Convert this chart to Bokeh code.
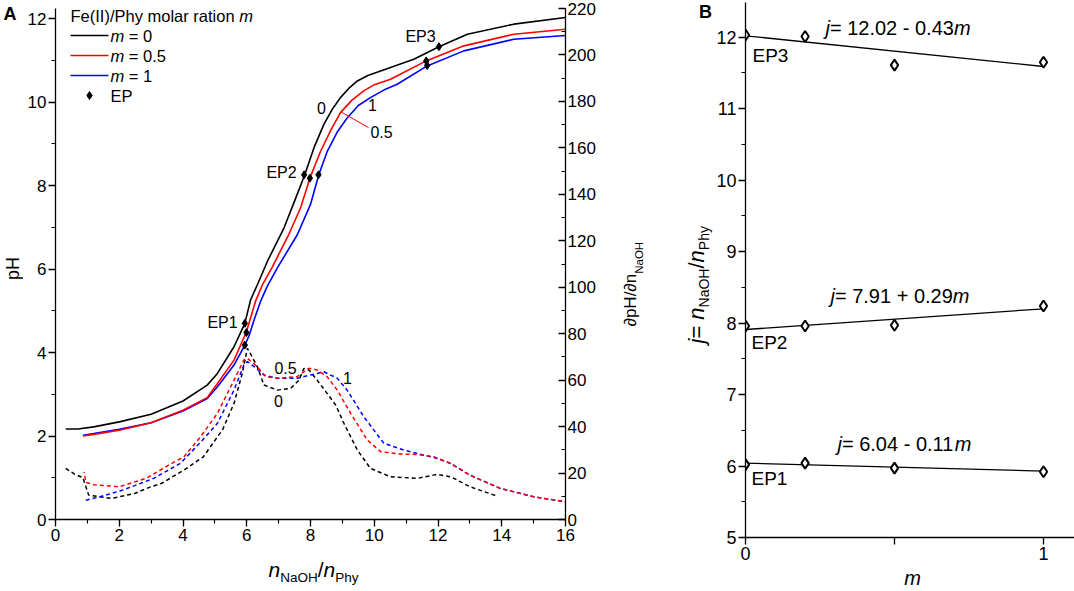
from bokeh.plotting import figure
from bokeh.models import Range1d, LinearAxis, Label, FixedTicker
from bokeh.layouts import row, column
from bokeh.embed import file_html
from bokeh.resources import INLINE

FONT = "Liberation Sans"
NB = "\u00a0"

# ---------------- data: panel A (pH curves, left axis) ----------------
x_ph0 = [0.32, 0.7, 1.2, 2.0, 3.0, 4.0, 4.76, 5.08, 5.6, 5.94, 6.12, 6.33, 6.65, 7.17, 7.5, 7.82,
         8.11, 8.42, 8.7, 8.94, 9.2, 9.47, 9.8, 10.2, 11.24, 12.03, 12.92, 14.38, 16.0]
ph0 = [2.17, 2.17, 2.22, 2.34, 2.52, 2.84, 3.22, 3.5, 4.14, 4.70, 5.26, 5.62, 6.19, 6.99, 7.63, 8.26,
       8.91, 9.47, 9.85, 10.11, 10.33, 10.51, 10.64, 10.75, 11.03, 11.33, 11.63, 11.87, 12.03]

x_ph05 = [0.86, 1.2, 2.0, 3.0, 4.0, 4.76, 5.08, 5.6, 5.99, 6.28, 6.49, 6.8, 7.3, 7.69, 7.98,
          8.32, 8.65, 8.94, 9.3, 9.67, 10.0, 10.51, 11.63, 12.81, 14.38, 16.0]
ph05 = [2.0, 2.04, 2.14, 2.32, 2.62, 2.92, 3.26, 3.82, 4.50, 5.24, 5.62, 6.05, 6.8, 7.47, 8.18,
        8.83, 9.35, 9.75, 10.05, 10.27, 10.42, 10.55, 10.99, 11.35, 11.63, 11.75]

x_ph1 = [0.86, 1.2, 2.0, 3.0, 4.0, 4.76, 5.08, 5.6, 5.94, 6.07, 6.23, 6.44, 6.65, 6.96, 7.59, 8.0,
         8.26, 8.53, 8.85, 9.15, 9.5, 9.88, 10.3, 10.72, 11.66, 12.81, 14.38, 16.0]
ph1 = [2.02, 2.06, 2.16, 2.32, 2.6, 2.9, 3.18, 3.7, 4.18, 4.4, 4.78, 5.24, 5.6, 6.03, 6.83, 7.55,
       8.26, 8.83, 9.3, 9.62, 9.92, 10.11, 10.29, 10.43, 10.87, 11.23, 11.51, 11.6]

# equivalence points on the pH curves (m = 0, 0.5, 1)
ep_x = [5.94, 5.99, 5.94, 7.8, 7.98, 8.25, 12.03, 11.63, 11.66]
ep_ph = [4.70, 4.48, 4.18, 8.26, 8.18, 8.26, 11.33, 10.99, 10.88]

# ---------------- data: panel A (derivative, right axis) ----------------
x_d0 = [0.32, 0.6, 0.86, 1.04, 1.76, 2.48, 2.99, 3.32, 4.03, 4.64, 5.08, 5.24, 5.6, 5.86, 6.02, 6.15,
        6.33, 6.54, 6.96, 7.38, 7.64, 7.79, 7.95, 8.21, 8.52, 8.79, 9.05, 9.47, 9.88, 10.51, 11.35,
        11.97, 12.4, 13.0, 13.85]
d0 = [22.0, 19.5, 18.0, 10.5, 9.1, 11.2, 14.1, 15.5, 21.3, 27.0, 35.6, 38.6, 50.0, 62.9, 73.7, 70.5,
      65.8, 57.9, 55.7, 56.5, 60.0, 65.0, 64.4, 60.0, 54.3, 49.3, 41.4, 29.9, 22.0, 18.4, 17.7,
      19.4, 18.4, 14.1, 10.1]

x_d05 = [0.9, 0.95, 1.2, 2.0, 2.84, 3.56, 4.03, 4.55, 5.08, 5.6, 5.91, 6.02, 6.33, 6.59, 6.96, 7.58,
         7.79, 7.95, 8.21, 8.52, 8.84, 9.26, 9.78, 10.2, 10.82, 11.35, 11.87, 12.4, 13.0, 13.95,
         15.0, 16.0]
d05 = [20.5, 16.0, 15.0, 14.1, 17.7, 23.5, 27.0, 35.6, 45.7, 60.0, 68.7, 69.4, 65.8, 61.5, 60.8, 61.5,
       63.6, 65.1, 64.4, 61.5, 55.7, 45.7, 34.2, 29.2, 28.2, 28.0, 27.0, 24.1, 19.1, 13.4,
       9.8, 7.6]

x_d1 = [0.95, 1.4, 2.12, 3.08, 3.92, 4.52, 5.08, 5.6, 5.91, 6.02, 6.23, 6.54, 6.96, 7.58, 8.0, 8.42,
        8.84, 9.15, 9.67, 10.3, 10.93, 11.56, 11.98, 12.4, 13.0, 13.95, 15.0, 16.0]
d1 = [8.3, 9.8, 12.7, 17.7, 24.2, 32.8, 41.4, 55.7, 66.5, 68.0, 65.8, 62.2, 60.8, 60.8, 62.2, 63.6,
      60.8, 55.7, 44.3, 32.8, 29.9, 27.7, 26.3, 24.1, 19.1, 13.4, 9.8, 7.6]

# ---------------- data: panel B ----------------
m_vals = [0, 0.2, 0.5, 1.0]
j_ep1 = [6.02, 6.04, 5.97, 5.92]
j_ep2 = [7.96, 7.96, 7.97, 8.24]
j_ep3 = [12.03, 12.01, 11.61, 11.65]
fit_intercept = [6.04, 7.91, 12.02]
fit_slope = [-0.11, 0.29, -0.43]
fit_m = [0, 1]

# tick labels
a_xticks = [0, 2, 4, 6, 8, 10, 12, 14, 16]
a_phticks = [0, 2, 4, 6, 8, 10, 12]
a_dticks = [0, 20, 40, 60, 80, 100, 120, 140, 160, 180, 200, 220]
b_xticks = [0, 0.5, 1]
b_xlabels = {0: "0", 0.5: "", 1: "1"}
b_yticks = [5, 6, 7, 8, 9, 10, 11, 12]

# ---------------- geometry (page pixels, content starts at 0,0) ----------------
FIG_H = 589
SL_W = 23
A_LEFT, A_W, A_RIGHT, A_TOP, A_H, A_BOT = 32, 510, 40, 8, 511, 31
A_TOTW = A_LEFT + A_W + A_RIGHT
A_TOTH = A_TOP + A_H + A_BOT
SM_W = 108
B_LEFT, B_W, B_RIGHT, B_TOP, B_H, B_BOT = 30, 329, 0, 2, 535, 29
B_TOTW = B_LEFT + B_W + B_RIGHT
B_TOTH = B_TOP + B_H + B_BOT
PH_PX = 41.73
X_PX = A_W / 16.0
BX_PX = 298.0
BY_PX = 71.47

SL_X = 0
A_X = SL_X + SL_W
SM_X = A_X + A_TOTW
B_X = SM_X + SM_W
A_FX = A_X + A_LEFT
A_FB = A_TOP + A_H
B_FX = B_X + B_LEFT
B_FB = B_TOP + B_H


def ax(px):
    return (px - A_FX) / X_PX


def ay(py):
    return (A_FB - py) / PH_PX


def bx(px):
    return (px - B_FX) / BX_PX


def by(py):
    return 5 + (B_FB - py) / BY_PX


W = {'0': .556, '1': .556, '2': .556, '3': .556, '4': .556, '5': .556, '6': .556, '7': .556,
     '8': .556, '9': .556, '.': .278, ' ': .278, NB: .278, '-': .333, '=': .584, '+': .584,
     'j': .222, 'm': .833, 'n': .556, 'E': .667, 'P': .667, 'h': .556, 'y': .5, 'N': .722,
     'a': .556, 'O': .778, 'H': .722, '/': .278, '\u2202': .494, 'p': .556, 'F': .611, 'e': .556,
     '(': .333, ')': .333, 'I': .278, 'o': .556, 'l': .222, 'r': .333, 't': .278, 'i': .222}


def tw(text, size):
    return sum(W.get(c, .556) for c in text) * size


class Place:
    def __init__(self, p, fx, fy):
        self.p, self.fx, self.fy = p, fx, fy

    def label(self, px, py, text, size, style="normal", align="left", angle=0.0, color="black"):
        self.p.add_layout(Label(x=self.fx(px), y=self.fy(py), text=text, text_font=FONT,
                                text_font_size=f"{size}px", text_font_style=style,
                                text_align=align, text_baseline="middle", angle=angle,
                                text_color=color))

    def hpieces(self, px0, py, pieces):
        """pieces: (text, size, style, dy) ; py / py+dy are text centres"""
        cx = px0
        for text, size, style, dy in pieces:
            self.label(cx, py + dy, text, size, style)
            cx += tw(text, size)

    def vpieces(self, px, py0, pieces):
        """rotated, reading bottom to top; px / px+dx are text centres"""
        cy = py0
        for text, size, style, dx in pieces:
            self.label(px + dx, cy, text, size, style, angle=1.5707963)
            cy -= tw(text, size)


def strip(w, h, frame_left, frame_top, bl=0, br=0):
    """text-only figure; its data coordinates are page pixels (y negated)"""
    f = figure(frame_width=w, frame_height=h, min_border=0, min_border_left=bl,
               min_border_right=br, x_range=Range1d(frame_left, frame_left + w),
               y_range=Range1d(-(frame_top + h), -frame_top), x_axis_location=None,
               y_axis_location=None, output_backend="svg", toolbar_location=None)
    f.outline_line_color = None
    f.grid.visible = False
    f.background_fill_color = "white"
    f.border_fill_color = "white"
    return Place(f, lambda px: px, lambda py: -py)


def style_axis(a, size):
    a.axis_line_width = 1.3
    a.axis_line_color = "black"
    a.major_tick_line_width = 1.3
    a.minor_tick_line_width = 1.1
    a.major_tick_out = 7
    a.major_tick_in = 0
    a.minor_tick_out = 4
    a.minor_tick_in = 0
    a.major_label_text_font = FONT
    a.major_label_text_font_size = f"{size}px"
    a.major_label_text_color = "black"
    a.major_label_standoff = 2


# ---------------- panel A ----------------
pA = figure(frame_width=A_W, frame_height=A_H, min_border_left=A_LEFT, min_border_right=A_RIGHT,
            min_border_top=A_TOP, min_border_bottom=A_BOT, x_range=Range1d(0, 16),
            y_range=Range1d(0, A_H / PH_PX), output_backend="svg", toolbar_location=None)
pA.outline_line_color = None
pA.grid.visible = False
pA.background_fill_color = "white"
pA.border_fill_color = "white"
pA.extra_y_ranges = {"d": Range1d(0, 220)}
style_axis(pA.xaxis[0], 17)
style_axis(pA.yaxis[0], 17)
pA.xaxis[0].ticker = FixedTicker(ticks=a_xticks, minor_ticks=list(range(0, 17)))
pA.yaxis[0].ticker = FixedTicker(ticks=a_phticks, minor_ticks=list(range(0, 13)))
rax = LinearAxis(y_range_name="d")
style_axis(rax, 17)
rax.major_tick_out = 0
rax.major_tick_in = 7
rax.minor_tick_out = 0
rax.minor_tick_in = 4
rax.ticker = FixedTicker(ticks=a_dticks, minor_ticks=list(range(0, 221, 10)))
pA.add_layout(rax, "right")

DASH = "4 3"
pA.line(x_d0, d0, y_range_name="d", line_color="black", line_width=1.5, line_dash=DASH)
pA.line(x_d1, d1, y_range_name="d", line_color="#0000ff", line_width=1.5, line_dash=DASH)
pA.line(x_d05, d05, y_range_name="d", line_color="#ff0000", line_width=1.5, line_dash=DASH,
        line_dash_offset=3)
pA.line(x_ph1, ph1, line_color="#0000ff", line_width=1.6)
pA.line(x_ph05, ph05, line_color="#ff0000", line_width=1.6)
pA.line(x_ph0, ph0, line_color="black", line_width=1.6)
pA.scatter(ep_x, ep_ph, marker="diamond", size=8, color="black")

# leader line for the "0.5" label
pA.segment(x0=[ax(341)], y0=[ay(111.7)], x1=[ax(368)], y1=[ay(127)], line_color="#ff0000",
           line_width=1)

PA = Place(pA, ax, ay)
# legend (manual)
PA.hpieces(70, 15, [("Fe(II)/Phy molar ration" + NB, 16.5, "normal", 0),
                    ("m", 16.5, "italic", 0)])
leg = [("0", "black", 35), ("0.5", "#ff0000", 55), ("1", "#0000ff", 75)]
for txt, col, py in leg:
    pA.segment(x0=[ax(70)], y0=[ay(py)], x1=[ax(108)], y1=[ay(py)], line_color=col,
               line_width=1.6)
    PA.hpieces(110, py, [("m", 16.5, "italic", 0), (NB + "=" + NB + txt, 16.5, "normal", 0)])
pA.scatter([ax(89)], [ay(95)], marker="diamond", size=8, color="black")
PA.hpieces(110, 95, [("EP", 16.5, "normal", 0)])

# curve annotations
PA.label(222, 322, "EP1", 16, align="center")
PA.label(281, 172, "EP2", 16, align="center")
PA.label(420, 36, "EP3", 16, align="center")
PA.label(321, 107, "0", 16, align="center")
PA.label(372, 104, "1", 16, align="center")
PA.label(381, 131, "0.5", 16, align="center")
PA.label(285, 367, "0.5", 16, align="center")
PA.label(278, 400, "0", 16, align="center")
PA.label(347, 377, "1", 16, align="center")

# ---------------- strips holding texts outside the frames ----------------
SL = strip(SL_W, FIG_H, SL_X, 0)
SL.label(3, 13, "A", 18, style="bold")
SL.label(12, 268, "pH", 18, align="center", angle=1.5707963)

SAB = strip(A_W, FIG_H - A_TOTH, A_FX, A_TOTH, bl=A_LEFT, br=A_RIGHT)
SAB.hpieces(268, 569, [("n", 21, "italic", 0), ("NaOH", 13.5, "normal", 8),
                       ("/", 21, "normal", 0), ("n", 21, "italic", 0),
                       ("Phy", 13.5, "normal", 8)])

SM = strip(SM_W, FIG_H, SM_X, 0)
SM.vpieces(630, 326, [("\u2202pH/\u2202n", 17, "normal", 0), ("NaOH", 11.5, "normal", 8)])
SM.label(705, 11, "B", 18, style="bold", align="center")
SM.vpieces(696, 343, [("j", 22, "italic", 0), ("=" + NB, 22, "normal", 0),
                      ("n", 22, "italic", 0), ("NaOH", 14, "normal", 7.5),
                      ("/", 22, "normal", 0), ("n", 22, "italic", 0),
                      ("Phy", 14, "normal", 7.5)])

# ---------------- panel B ----------------
pB = figure(frame_width=B_W, frame_height=B_H, min_border_left=B_LEFT, min_border_right=B_RIGHT,
            min_border_top=B_TOP, min_border_bottom=B_BOT, x_range=Range1d(0, B_W / BX_PX),
            y_range=Range1d(5, 5 + B_H / BY_PX), output_backend="svg", toolbar_location=None)
pB.outline_line_color = None
pB.grid.visible = False
pB.background_fill_color = "white"
pB.border_fill_color = "white"
style_axis(pB.xaxis[0], 18)
style_axis(pB.yaxis[0], 18)
pB.xaxis[0].ticker = FixedTicker(ticks=b_xticks, minor_ticks=[])
pB.xaxis[0].major_label_overrides = b_xlabels
pB.yaxis[0].ticker = FixedTicker(ticks=b_yticks, minor_ticks=[5 + 0.5 * i for i in range(16)])

for a0, b0 in zip(fit_intercept, fit_slope):
    pB.line(fit_m, [a0 + b0 * mm for mm in fit_m], line_color="black", line_width=1.3)
for js in (j_ep1, j_ep2, j_ep3):
    pB.scatter(m_vals, js, marker="diamond", size=11, fill_color="white", line_color="black",
               line_width=2)


def eq_text(a0, b0):
    sign = "-" if b0 < 0 else "+"
    return f"={NB}{a0:.2f}{NB}{sign}{NB}{abs(b0):.2f}"


PB = Place(pB, bx, by)
eq_pos = [(835, 443), (828, 295), (823, 27)]
for (a0, b0), (px0, py0) in zip(zip(fit_intercept, fit_slope), eq_pos):
    PB.hpieces(px0, py0, [("j", 20, "italic", 0), (eq_text(a0, b0), 20, "normal", 0),
                          ("m", 20, "italic", 0)])
PB.label(749, 478, "EP1", 19)
PB.label(749, 342, "EP2", 19)
PB.label(750, 55, "EP3", 19)

SBB = strip(B_W, FIG_H - B_TOTH, B_FX, B_TOTH, bl=B_LEFT, br=B_RIGHT)
SBB.label(910, 577.5, "m", 20, style="italic", align="center")

layout = row(SL.p, column(pA, SAB.p), SM.p, column(pB, SBB.p))
open("out.html", "w").write(file_html(layout, INLINE))
